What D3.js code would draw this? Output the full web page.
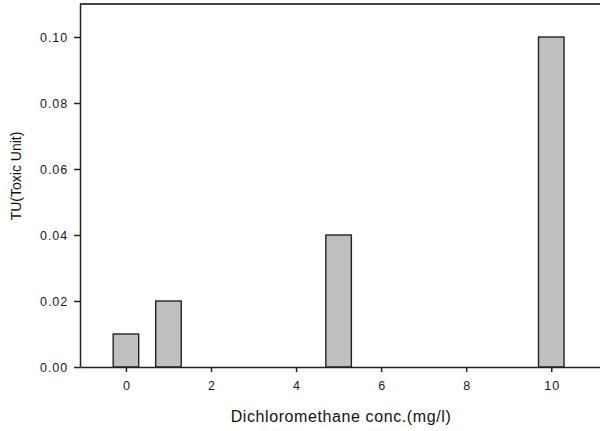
<!DOCTYPE html>
<html>
<head>
<meta charset="utf-8">
<script src="https://cdn.jsdelivr.net/npm/d3@7"></script>
<style>
  body { margin: 0; background: #fff; }
  svg { display: block; font-family: "Liberation Sans", Arial, sans-serif; }
  .axis text { font-size: 12.5px; fill: #16162a; letter-spacing: 0.9px; }
  .axis path, .axis line { stroke: #222; stroke-width: 1.5px; }
  .axis-label { font-size: 14px; fill: #111; }
</style>
</head>
<body>
<div id="chart"></div>
<script>
// Data
const concentrations = [0, 1, 5, 10];
const toxicUnits = [0.01, 0.02, 0.04, 0.10];
const xTicks = [0, 2, 4, 6, 8, 10];
const yTicks = [0.00, 0.02, 0.04, 0.06, 0.08, 0.10];

const W = 600, H = 431;
const margin = { top: 4, right: -4, bottom: 64, left: 80 };
const width = W - margin.left - margin.right;
const height = H - margin.top - margin.bottom;

const svg = d3.select("#chart")
    .append("svg")
    .attr("width", W)
    .attr("height", H)
    .append("g")
    .attr("transform", `translate(${margin.left},${margin.top})`);

// Scales
const x = d3.scaleLinear()
    .domain([-1.08, 11.24])
    .range([0, width]);

const y = d3.scaleLinear()
    .domain([0, 0.11])
    .range([height, 0]);

const barWidth = x(0.6) - x(0);

// Bars
svg.selectAll(".bar")
    .data(concentrations.map((c, i) => ({ c, v: toxicUnits[i] })))
    .enter()
    .append("rect")
    .attr("class", "bar")
    .attr("x", d => x(d.c) - barWidth / 2)
    .attr("y", d => y(d.v))
    .attr("width", barWidth)
    .attr("height", d => y(0) - y(d.v))
    .style("fill", "#c0c0c0")
    .style("stroke", "#222")
    .style("stroke-width", "1.4px");

// Top frame line
svg.append("line")
    .attr("x1", 0).attr("x2", width)
    .attr("y1", 0).attr("y2", 0)
    .style("stroke", "#444")
    .style("stroke-width", "2px");

// Axes
const xAxis = svg.append("g")
    .attr("class", "axis x-axis")
    .attr("transform", `translate(0,${height})`)
    .call(d3.axisBottom(x).tickValues(xTicks).tickSize(5).tickSizeOuter(0).tickPadding(9).tickFormat(d3.format("d")));
// letter-spacing adds a trailing gap; nudge centred labels back
xAxis.selectAll("text").attr("dx", "0.45px");

svg.append("g")
    .attr("class", "axis y-axis")
    .call(d3.axisLeft(y).tickValues(yTicks).tickSize(6).tickSizeOuter(0).tickPadding(6).tickFormat(d3.format(".2f")));

// Axis labels
svg.append("text")
    .attr("class", "axis-label")
    .attr("text-anchor", "middle")
    .style("font-size", "16px")
    .style("letter-spacing", "0.6px")
    .attr("x", 341 - margin.left)
    .attr("y", 422 - margin.top)
    .text("Dichloromethane conc.(mg/l)");

svg.append("text")
    .attr("class", "axis-label")
    .attr("text-anchor", "middle")
    .attr("transform", "rotate(-90)")
    .attr("x", -(176 - margin.top))
    .attr("y", 21 - margin.left)
    .text("TU(Toxic Unit)");
</script>
</body>
</html>
